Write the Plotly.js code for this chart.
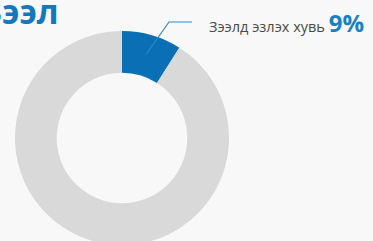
<!DOCTYPE html>
<html><head><meta charset="utf-8">
<script src="https://cdn.plot.ly/plotly-3.0.1.min.js"></script>
<style>html,body{margin:0;padding:0;overflow:hidden;background:#f8f8f8;width:373px;height:241px}</style>
</head><body><div id="c"></div>
<script>
const labels = ["Зээлд эзлэх хувь", "Бусад"];
const values = [9, 91];
const colors = ["#0a6fb4", "#d9d9da"];
const titleText = "Зээл";
const labelText = "Зээлд эзлэх хувь";

const W = 373, H = 262;
const cx = 122, cy = 138, R = 107;
const dom = {x:[(cx-R)/W,(cx+R)/W], y:[1-(cy+R)/H, 1-(cy-R)/H]};
const px = (x)=>x/W, py=(y)=>1-y/H;

const mid = values[0]/values.reduce((a,b)=>a+b,0)*Math.PI;
const r0 = R*0.82;
const sx = cx + r0*Math.sin(mid), sy = cy - r0*Math.cos(mid);

Plotly.newPlot("c", [{
  type:"pie", labels:labels, values:values, sort:false, direction:"clockwise",
  rotation:0, hole:0.61, textinfo:"none", hoverinfo:"none",
  marker:{colors:colors, line:{width:0}}, domain:dom, showlegend:false
}], {
  width:W, height:H, margin:{l:0,r:0,t:0,b:0},
  paper_bgcolor:"#f8f8f8", plot_bgcolor:"#f8f8f8",
  shapes:[
    {type:"path", xref:"paper", yref:"paper",
     path:`M ${px(sx)} ${py(sy)} L ${px(169)} ${py(22)} L ${px(192)} ${py(22)}`,
     line:{color:"#2b8cc4", width:1.2}}
  ],
  annotations:[
    {xref:"paper", yref:"paper", x:px(-22), y:py(-14), xanchor:"left", yanchor:"top",
     text:"<b>"+titleText+"</b>", showarrow:false,
     font:{family:"Open Sans, sans-serif", size:34, color:"#1279bd"}},
    {xref:"paper", yref:"paper", x:px(207), y:py(22), xanchor:"left", yanchor:"middle",
     text:labelText+' <span style="font-size:24px;color:#1a80c4"><b>'+values[0]+'%</b></span>',
     showarrow:false, font:{family:"Open Sans, sans-serif", size:14.5, color:"#4a4a4a"}}
  ]
}, {staticPlot:true, displayModeBar:false});
</script></body></html>
